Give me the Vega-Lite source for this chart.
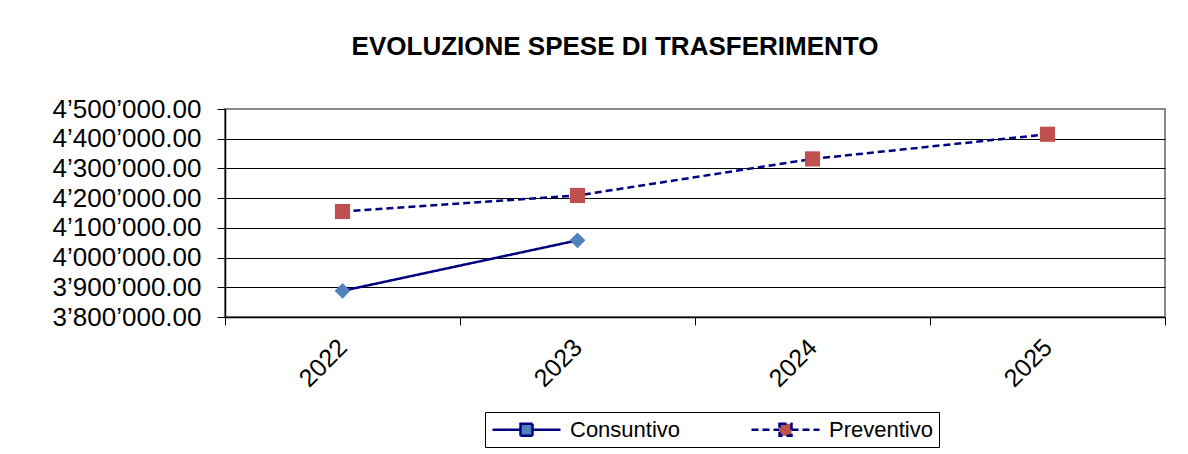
{
  "$schema": "https://vega.github.io/schema/vega-lite/v6.json",
  "width": 940,
  "height": 208,
  "autosize": "none",
  "padding": {"left": 225, "top": 109, "right": 23, "bottom": 137},
  "background": "white",
  "title": {
    "text": "EVOLUZIONE SPESE DI TRASFERIMENTO",
    "font": "Liberation Sans",
    "fontSize": 26,
    "fontWeight": "bold",
    "color": "#000000",
    "anchor": "middle",
    "frame": "group",
    "dx": -80,
    "offset": 36
  },
  "config": {
    "view": {"stroke": "#888888", "strokeWidth": 2},
    "font": "Liberation Sans"
  },
  "data": {
    "values": [
      {"anno": "2022", "serie": "Consuntivo", "valore": 3888000},
      {"anno": "2023", "serie": "Consuntivo", "valore": 4058000},
      {"anno": "2022", "serie": "Preventivo", "valore": 4155000},
      {"anno": "2023", "serie": "Preventivo", "valore": 4209000},
      {"anno": "2024", "serie": "Preventivo", "valore": 4332000},
      {"anno": "2025", "serie": "Preventivo", "valore": 4415000}
    ]
  },
  "encoding": {
    "x": {
      "field": "anno",
      "type": "ordinal",
      "scale": {"type": "band", "paddingInner": 0, "paddingOuter": 0},
      "axis": {
        "title": null,
        "tickBand": "extent",
        "labelAngle": -45,
        "labelAlign": "right",
        "labelBaseline": "middle",
        "labelFont": "Liberation Sans",
        "labelFontSize": 25,
        "labelColor": "#000000",
        "labelPadding": 18,
        "tickSize": 8,
        "tickColor": "#000000",
        "domainColor": "#000000",
        "domainWidth": 1.5,
        "grid": false
      }
    },
    "y": {
      "field": "valore",
      "type": "quantitative",
      "scale": {"domain": [3800000, 4500000], "zero": false, "nice": false},
      "axis": {
        "title": null,
        "values": [3800000, 3900000, 4000000, 4100000, 4200000, 4300000, 4400000, 4500000],
        "labelExpr": "replace(replace(format(datum.value, ',.2f'), ',', '’'), ',', '’')",
        "labelFont": "Liberation Sans",
        "labelFontSize": 26,
        "labelColor": "#000000",
        "labelPadding": 16,
        "tickSize": 8,
        "tickColor": "#000000",
        "domainColor": "#000000",
        "domainWidth": 1.5,
        "grid": true,
        "gridColor": {"condition": {"test": "datum.value == 4500000", "value": "#888888"}, "value": "#000000"},
        "gridWidth": 1,
        "gridOpacity": 1
      }
    }
  },
  "layer": [
    {
      "mark": {"type": "line", "color": "#000080", "strokeWidth": 2.5},
      "encoding": {
        "strokeDash": {
          "field": "serie",
          "type": "nominal",
          "scale": {"domain": ["Consuntivo", "Preventivo"], "range": [[1, 0], [7, 4]]},
          "legend": {
            "orient": "none",
            "legendX": 260,
            "legendY": 303,
            "direction": "horizontal",
            "title": null,
            "strokeColor": "#000000",
            "padding": 6,
            "labelFont": "Liberation Sans",
            "labelFontSize": 22,
            "labelColor": "#000000",
            "labelOffset": 56,
            "symbolSize": 400,
            "symbolStrokeWidth": 2.5,
            "symbolStrokeColor": "#000080",
            "symbolType": "M-1,0L1.8,0M3,0L5.8,0M1.8,-0.6L3,-0.6L3,0.6L1.8,0.6Z",
            "columnPadding": 65
          }
        }
      }
    },
    {
      "transform": [{"filter": "datum.serie == 'Consuntivo'"}],
      "mark": {"type": "point", "filled": true, "opacity": 1, "size": 250, "shape": "diamond"},
      "encoding": {
        "color": {
          "field": "serie",
          "type": "nominal",
          "scale": {"domain": ["Consuntivo", "Preventivo"], "range": ["#4F81BD", "#C0504D"]},
          "legend": {
            "orient": "none",
            "legendX": 260,
            "legendY": 303,
            "direction": "horizontal",
            "title": null,
            "strokeColor": "#000000",
            "padding": 6,
            "labelFont": "Liberation Sans",
            "labelFontSize": 22,
            "labelColor": "#000000",
            "labelOffset": 56,
            "symbolSize": 400,
            "symbolStrokeWidth": 2.5,
            "symbolStrokeColor": "#000080",
            "symbolType": "M-1,0L1.8,0M3,0L5.8,0M1.8,-0.6L3,-0.6L3,0.6L1.8,0.6Z",
            "columnPadding": 65
          }
        }
      }
    },
    {
      "transform": [{"filter": "datum.serie == 'Preventivo'"}],
      "mark": {"type": "point", "filled": true, "opacity": 1, "size": 230, "shape": "square"},
      "encoding": {
        "color": {
          "field": "serie",
          "type": "nominal",
          "scale": {"domain": ["Consuntivo", "Preventivo"], "range": ["#4F81BD", "#C0504D"]},
          "legend": {
            "orient": "none",
            "legendX": 260,
            "legendY": 303,
            "direction": "horizontal",
            "title": null,
            "strokeColor": "#000000",
            "padding": 6,
            "labelFont": "Liberation Sans",
            "labelFontSize": 22,
            "labelColor": "#000000",
            "labelOffset": 56,
            "symbolSize": 400,
            "symbolStrokeWidth": 2.5,
            "symbolStrokeColor": "#000080",
            "symbolType": "M-1,0L1.8,0M3,0L5.8,0M1.8,-0.6L3,-0.6L3,0.6L1.8,0.6Z",
            "columnPadding": 65
          }
        }
      }
    }
  ]
}
